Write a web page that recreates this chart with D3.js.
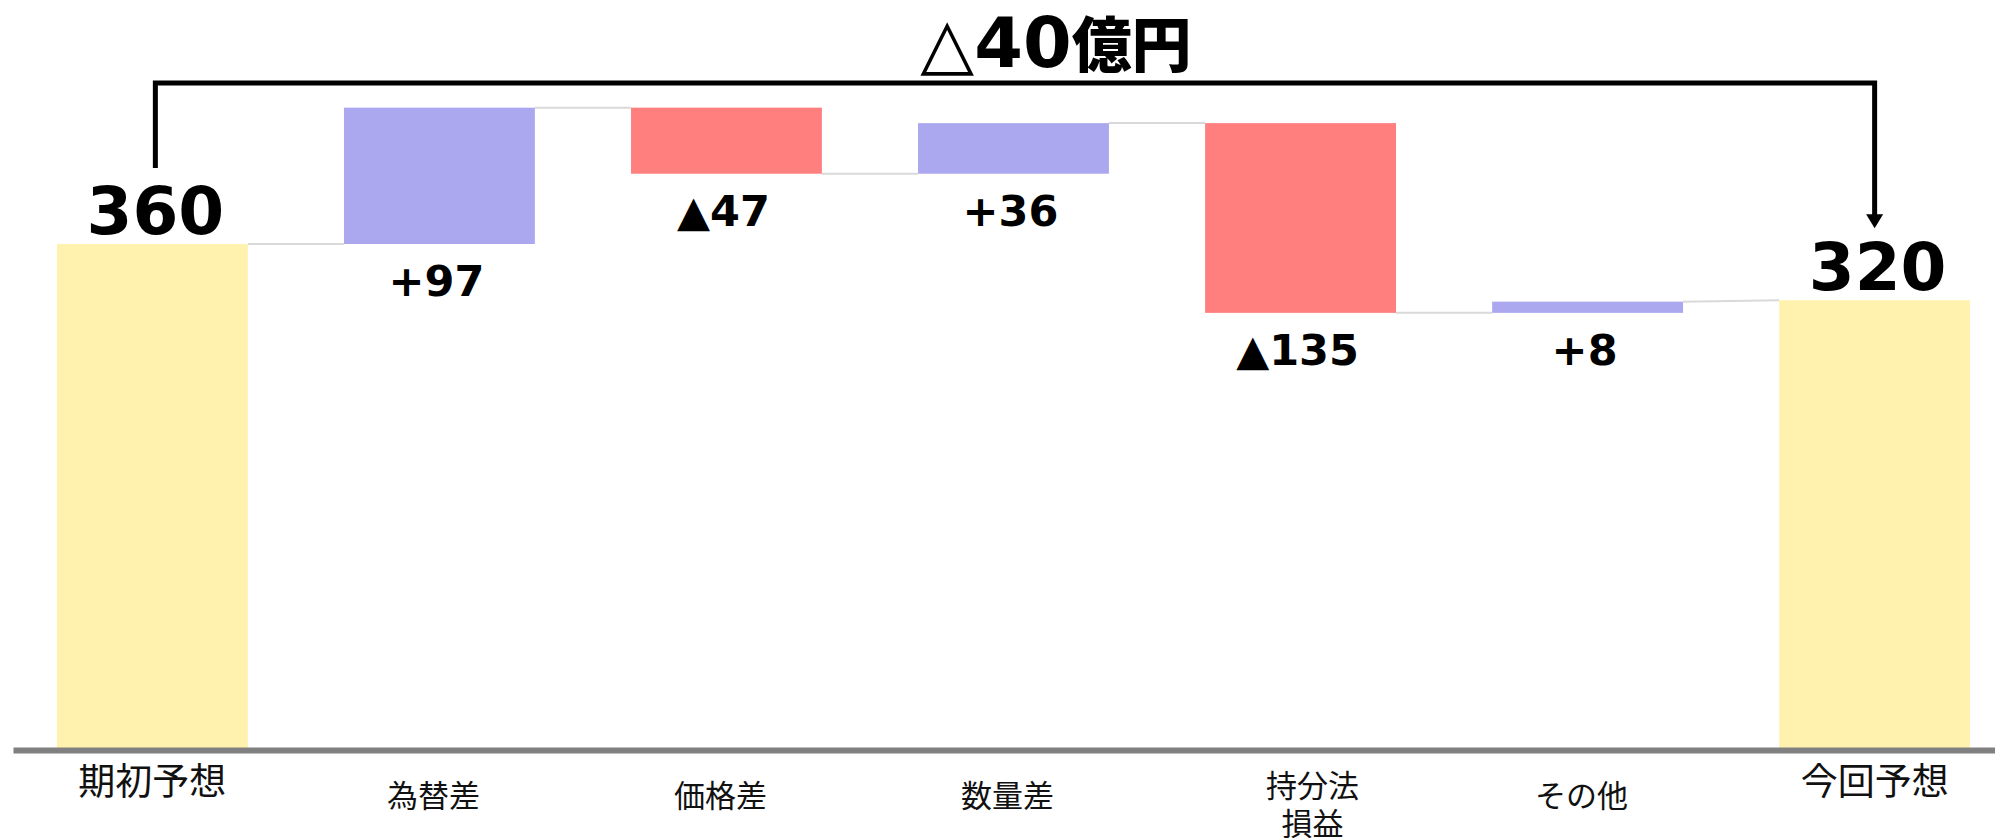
<!DOCTYPE html>
<html>
<head>
<meta charset="utf-8">
<script src="https://cdn.jsdelivr.net/npm/d3@7"></script>
<style>
    body { margin: 0; background: #fff; }
    svg { display: block; }
    .num { font-family: "DejaVu Sans", "Noto Sans CJK JP", sans-serif; font-weight: bold; }
    .cat { font-family: "Noto Sans CJK JP", sans-serif; fill: #111; }
</style>
</head>
<body>
<div id="chart"></div>
<script>
var categories = ["期初予想", "為替差", "価格差", "数量差", "持分法\n損益", "その他", "今回予想"];
var values = [360, 97, -47, 36, -135, 8, 320];
var kinds = ["total", "delta", "delta", "delta", "delta", "delta", "total"];
var valueLabels = ["360", "+97", "▲47", "+36", "▲135", "+8", "320"];
var titleMark = "△";
var titleText = "40";
var titleUnit = "億円";

var WIDTH = 1995, HEIGHT = 838;
var COLORS = {total: "#FFF2AE", up: "#ABA8EF", down: "#FF7F7F"};

// running totals for the waterfall
var steps = [];
var running = 0;
for (var i = 0; i < values.length; i++) {
    var start, end;
    if (kinds[i] === "total") {
        start = 0;
        end = values[i];
    } else {
        start = running;
        end = running + values[i];
    }
    running = end;
    steps.push({cat: categories[i], kind: kinds[i], value: values[i], start: start, end: end, label: valueLabels[i]});
}

var svg = d3.select("#chart").append("svg")
    .attr("width", WIDTH)
    .attr("height", HEIGHT);

var x = d3.scaleBand()
    .domain(categories)
    .range([13, 2014])
    .paddingInner(0.335)
    .paddingOuter(0.153);

var y = d3.scaleLinear()
    .domain([0, 360])
    .range([750, 244]);

function barTop(d) { return y(Math.max(d.start, d.end)); }
function barBottom(d) { return y(Math.min(d.start, d.end)); }

// connectors between bars
var links = [];
for (var i = 0; i < steps.length - 1; i++) {
    var next = steps[i + 1];
    var nextLevel = next.kind === "total" ? next.end : next.start;
    links.push({x1: x(steps[i].cat) + x.bandwidth(), y1: y(steps[i].end), x2: x(next.cat), y2: y(nextLevel)});
}
svg.append("g").selectAll("line")
    .data(links)
    .enter().append("line")
    .attr("x1", function(d) { return d.x1; })
    .attr("y1", function(d) { return d.y1; })
    .attr("x2", function(d) { return d.x2; })
    .attr("y2", function(d) { return d.y2; })
    .attr("stroke", "#D9D9D9")
    .attr("stroke-width", 2);

// bars
svg.append("g").selectAll("rect")
    .data(steps)
    .enter().append("rect")
    .attr("x", function(d) { return x(d.cat); })
    .attr("width", x.bandwidth())
    .attr("y", barTop)
    .attr("height", function(d) { return barBottom(d) - barTop(d); })
    .attr("fill", function(d) {
        if (d.kind === "total") { return COLORS.total; }
        return d.value >= 0 ? COLORS.up : COLORS.down;
    });

// axis line + category labels
var axis = svg.append("g")
    .attr("transform", "translate(0," + y(0) + ")")
    .call(d3.axisBottom(x).tickSize(0).tickSizeOuter(0).tickFormat(""));
axis.select(".domain").attr("stroke", "#808080").attr("stroke-width", 6);

axis.selectAll(".tick text").remove();
axis.selectAll(".tick").each(function(c, i) {
    var isTotal = kinds[i] === "total";
    var lines = c.split("\n");
    var t = d3.select(this).append("text")
        .attr("class", "cat")
        .attr("text-anchor", "middle")
        .attr("font-size", isTotal ? 37 : 31);
    var firstY = isTotal ? 45 : (lines.length > 1 ? 47 : 57);
    lines.forEach(function(line, k) {
        t.append("tspan")
            .attr("x", isTotal ? 0 : (lines.length > 1 ? 12 : -6))
            .attr("y", firstY + k * 38)
            .text(line);
    });
});

// value labels
svg.append("g").selectAll("text")
    .data(steps)
    .enter().append("text")
    .attr("class", "num")
    .attr("text-anchor", "middle")
    .attr("x", function(d) { return x(d.cat) + x.bandwidth() / 2 + (d.kind === "total" ? 3 : -3); })
    .attr("y", function(d) {
        return d.kind === "total" ? barTop(d) - 10 : barBottom(d) + 52;
    })
    .attr("font-size", function(d) { return d.kind === "total" ? 66 : 43; })
    .attr("fill", "#000")
    .text(function(d) { return d.label; });

// bracket with arrow from first to last total
var first = steps[0], last = steps[steps.length - 1];
var bx1 = x(first.cat) + x.bandwidth() / 2 + 3;
var bx2 = x(last.cat) + x.bandwidth() / 2;
var bracketY = 83;
var tipY = barTop(last) - 72;

svg.append("path")
    .attr("d", "M" + bx1 + "," + (barTop(first) - 76) + "V" + bracketY + "H" + bx2 + "V" + (tipY - 12))
    .attr("fill", "none")
    .attr("stroke", "#000")
    .attr("stroke-width", 5);
svg.append("path")
    .attr("d", "M" + (bx2 - 8.5) + "," + (tipY - 14) + "L" + (bx2 + 8.5) + "," + (tipY - 14) + "L" + bx2 + "," + tipY + "Z")
    .attr("fill", "#000");

var title = svg.append("text")
    .attr("class", "num")
    .attr("text-anchor", "middle")
    .attr("x", 1056)
    .attr("y", 67)
    .attr("font-size", 70)
    .attr("fill", "#000");
title.append("tspan").attr("font-weight", "normal").text(titleMark);
title.append("tspan").text(titleText);
title.append("tspan").attr("font-family", "Noto Sans CJK JP").attr("font-weight", 900).attr("font-size", 60).text(titleUnit);
</script>
</body>
</html>
